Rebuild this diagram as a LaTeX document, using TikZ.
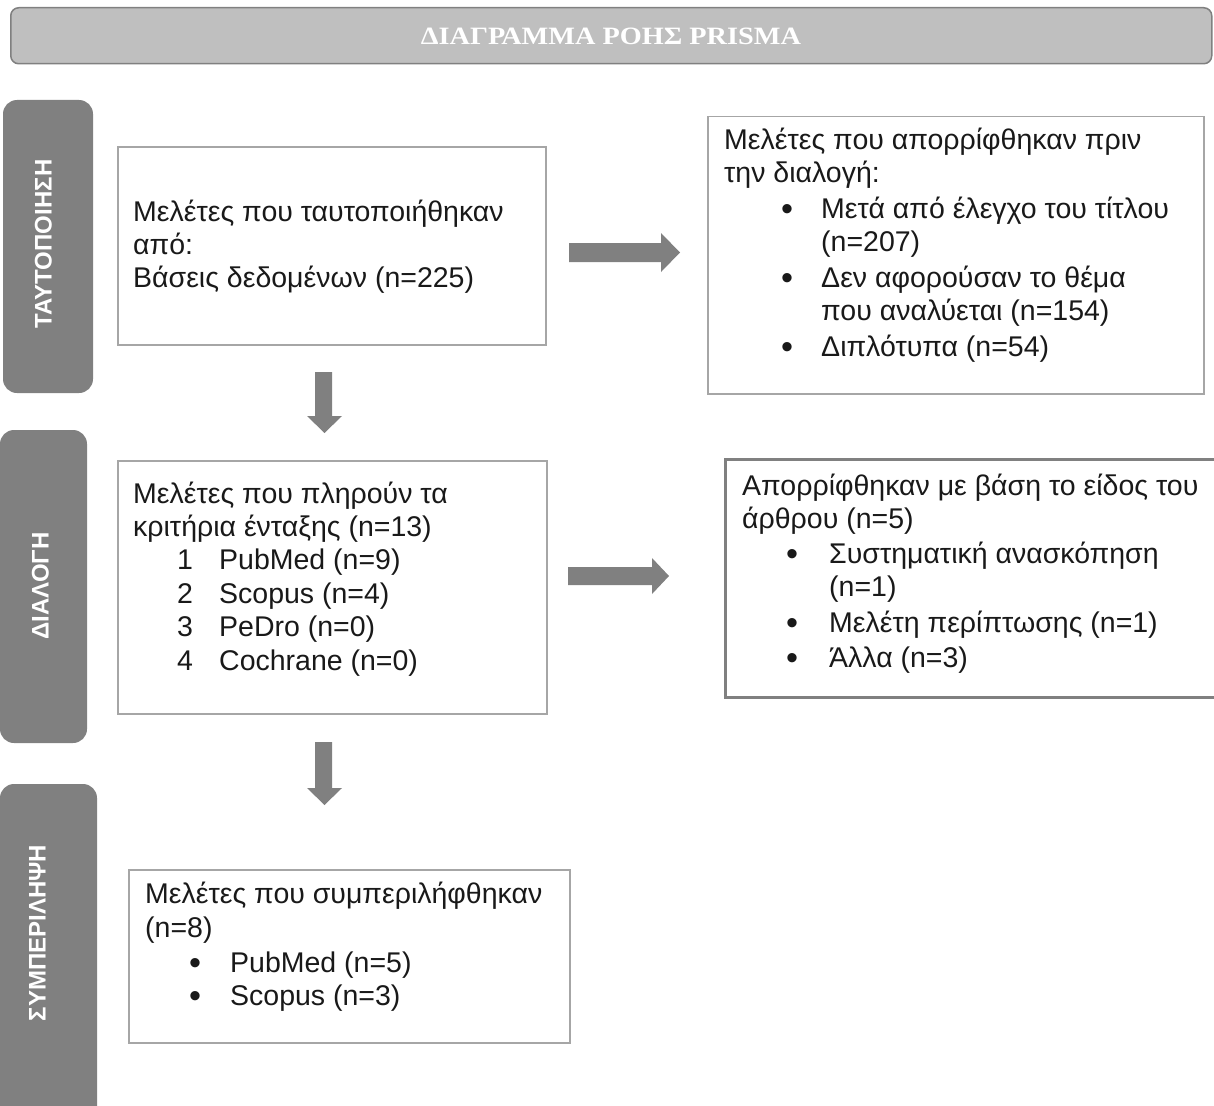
\documentclass[tikz,border=0pt]{standalone}
\usepackage{graphicx}
\usepackage{fontspec}
\setmainfont{Liberation Sans}
\newfontfamily\titlefont{Liberation Serif}
\definecolor{tabgray}{HTML}{808080}
\definecolor{bargray}{HTML}{BFBFBF}
\definecolor{boxline}{HTML}{A6A6A6}
\definecolor{boxlineD}{HTML}{808080}
\tikzset{
  box/.style={draw=boxline, line width=1.5pt, anchor=north west, inner sep=0pt},
  tab/.style={fill=tabgray, rounded corners=14pt},
  tablabel/.style={text=white, font=\fontsize{24}{24}\selectfont\bfseries, rotate=90,
    inner sep=0pt, text height=17pt, text depth=0pt},
  body/.style={anchor=north west, inner sep=0pt, align=left,
    font=\fontsize{28.5}{33}\selectfont, text=black!90},
  barrow/.style={fill=tabgray},
}
\newcommand{\firstline}{\rule{0pt}{25pt}}
\newcommand{\bul}[2]{\hspace*{#1}\makebox[0pt]{\raisebox{-2pt}{\scalebox{1.2}{\textbullet}}}\hspace*{#2}}
\begin{document}
\begin{tikzpicture}[x=1pt,y=-1pt]
\useasboundingbox (0,0) rectangle (1214,1105);
\clip (0,0) rectangle (1214,1105);

% title bar
\node[draw=tabgray, fill=bargray, line width=1.5pt, rounded corners=8pt,
  minimum width=1201pt, minimum height=56pt, anchor=north west, inner sep=0pt]
  (title) at (10,7) {};
\node[text=white, font=\titlefont\bfseries, inner sep=0pt] (titletext) at (611,36)
  {\resizebox{380pt}{16.5pt}{ΔΙΑΓΡΑΜΜΑ ΡΟΗΣ PRISMA}};

% side tabs
\fill[tab] (3,100) rectangle (93,393);
\fill[tab] (0,430) rectangle (87,743);
\fill[tab] (0,784) rectangle (97,1130);
\node[tablabel] (t1) at (43,244) {ΤΑΥΤΟΠΟΙΗΣΗ};
\node[tablabel] (t2) at (40,586) {ΔΙΑΛΟΓΗ};
\node[tablabel] (t3) at (37,933) {ΣΥΜΠΕΡΙΛΗΨΗ};

% boxes
\node[box, minimum width=428pt, minimum height=198pt] (A) at (117,146) {};
\node[box, minimum width=496pt, minimum height=277pt] (B) at (707,116) {};
\node[box, minimum width=429pt, minimum height=253pt] (C) at (117,460) {};
\node[box, draw=boxlineD, line width=2.5pt, minimum width=510pt, minimum height=238pt] (D) at (724,458) {};
\node[box, minimum width=441pt, minimum height=173pt] (E) at (128,869) {};

% texts
\node[body] (Atext) at (133,221-25) {\firstline Μελέτες που ταυτοποιήθηκαν\\
από:\\
Βάσεις δεδομένων (n=225)};

\node[body] (Btext) at (724,149-25) {\firstline Μελέτες που απορρίφθηκαν πριν\\
την διαλογή:\\[3pt]
\bul{63pt}{34pt}Μετά από έλεγχο του τίτλου\\
\hspace*{97pt}(n=207)\\[3pt]
\bul{63pt}{34pt}Δεν αφορούσαν το θέμα\\
\hspace*{97pt}που αναλύεται (n=154)\\[3pt]
\bul{63pt}{34pt}Διπλότυπα (n=54)};

\node[body] (Ctext) at (133,503-25) {\firstline Μελέτες που πληρούν τα\\[0.3pt]
κριτήρια ένταξης (n=13)\\[0.3pt]
\hspace*{44pt}\makebox[42pt][l]{1}PubMed (n=9)\\[0.3pt]
\hspace*{44pt}\makebox[42pt][l]{2}Scopus (n=4)\\[0.5pt]
\hspace*{44pt}\makebox[42pt][l]{3}PeDro (n=0)\\[0.5pt]
\hspace*{44pt}\makebox[42pt][l]{4}Cochrane (n=0)};

\node[body] (Dtext) at (742,495-25) {\firstline Απορρίφθηκαν με βάση το είδος του\\
άρθρου (n=5)\\[2pt]
\bul{50pt}{37pt}Συστηματική ανασκόπηση\\
\hspace*{87pt}(n=1)\\[3pt]
\bul{50pt}{37pt}Μελέτη περίπτωσης (n=1)\\[2pt]
\bul{50pt}{37pt}Άλλα (n=3)};

\node[body] (Etext) at (145,903-25) {\firstline Μελέτες που συμπεριλήφθηκαν\\[1pt]
(n=8)\\[2pt]
\bul{50pt}{35pt}PubMed (n=5)\\
\bul{50pt}{35pt}Scopus (n=3)};

% block arrows
\fill[barrow] (315,372) -- (332,372) -- (332,416) -- (342,416) -- (324.5,433) -- (307,416) -- (315,416) -- cycle;
\fill[barrow] (315,742) -- (332,742) -- (332,788) -- (342,788) -- (324.5,805) -- (307,788) -- (315,788) -- cycle;
\fill[barrow] (569,243) -- (661,243) -- (661,233) -- (680,252.5) -- (661,272) -- (661,262) -- (569,262) -- cycle;
\fill[barrow] (568,567) -- (652,567) -- (652,558) -- (669,576) -- (652,594) -- (652,585) -- (568,585) -- cycle;
\end{tikzpicture}
\end{document}
